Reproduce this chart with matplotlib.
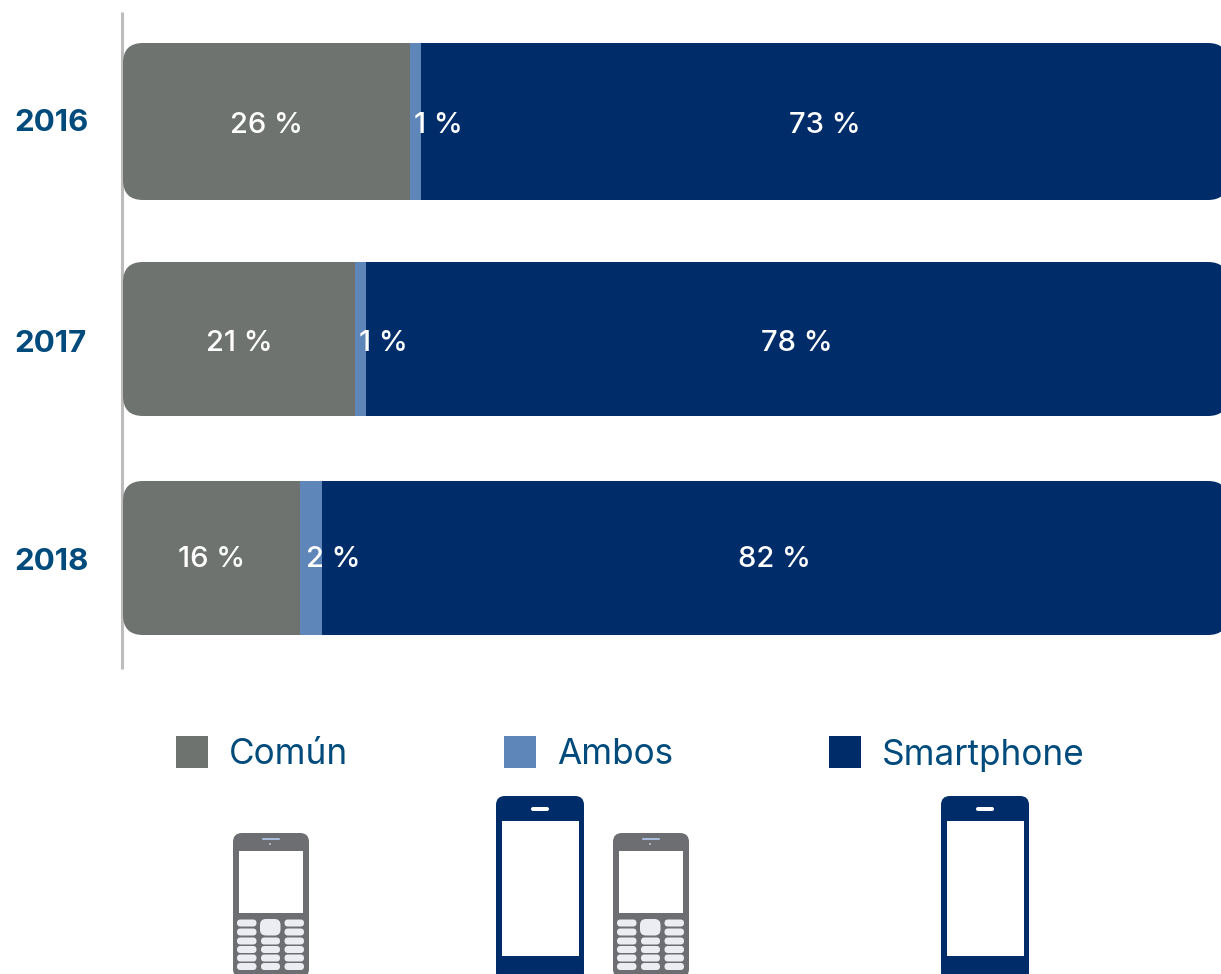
import matplotlib
matplotlib.use("Agg")
import matplotlib.pyplot as plt
from matplotlib.patches import FancyBboxPatch, Rectangle, Circle
import numpy as np

years = ["2016", "2017", "2018"]
comun = [26, 21, 16]
ambos = [1, 1, 2]
smartphone = [73, 78, 82]
legend_labels = ["Común", "Ambos", "Smartphone"]

GRAY = "#6f7370"
MID = "#5f86b8"
NAVY = "#002d69"
TEXT = "#004b7c"
ICON_GRAY = "#6d6e71"
KEY = "#ecedf2"

plt.rcParams["font.family"] = ["Inter", "DejaVu Sans"]

fig = plt.figure(figsize=(12.21, 9.74), dpi=100)

# full figure axes in pixels for the legend, icons and clip shapes
px = fig.add_axes([0, 0, 1, 1])
px.set_xlim(0, 1221)
px.set_ylim(974, 0)
px.axis("off")

# bars: x in percent (11.05 px per point), y in pixels
left = 123
ax = fig.add_axes([left / 1221, 0, 1 - left / 1221, 1])
ax.set_xlim(0, (1221 - left) / 11.05)
ax.set_ylim(974, 0)
ax.axis("off")

y_pos = [121.5, 339, 558]
bar_h = [157, 154, 154]
columns = [(comun, GRAY), (ambos, MID), (smartphone, NAVY)]
label_shift = [0, 2.05, 0]
label_y = [125.5, 343.5, 559.5]
year_y = [123, 344, 562]

for i in range(len(years)):
    clip = FancyBboxPatch((left + 20, y_pos[i] - bar_h[i] / 2 + 20), 1105 - 40, bar_h[i] - 40,
                          boxstyle="round,pad=20,rounding_size=20", transform=px.transData)
    start = 0
    for k, (vals, col) in enumerate(columns):
        bar = ax.barh(y_pos[i], vals[i], left=start, height=bar_h[i], color=col, linewidth=0)[0]
        bar.set_clip_path(clip)
        ax.text(start + vals[i] / 2 + label_shift[k], label_y[i], f"{vals[i]} %", color="white",
                fontsize=21, fontweight="medium", ha="center", va="center")
        start += vals[i]
    px.text(14, year_y[i], years[i], color=TEXT, fontsize=22.5, fontweight="bold", ha="left", va="center")

px.plot([121.5, 121.5], [12, 669], color="#bcbcbc", linewidth=2.2, solid_capstyle="butt")

# legend
leg_x = [176, 504, 829]
leg_text_x = [229, 557, 882]
for x, tx, lab, col in zip(leg_x, leg_text_x, legend_labels, [GRAY, MID, NAVY]):
    px.add_patch(Rectangle((x, 736), 32, 32, color=col, linewidth=0))
    px.text(tx, 755, lab, color=TEXT, fontsize=25.3, ha="left", va="center")


def rbox(x0, y0, x1, y1, r, col):
    px.add_patch(FancyBboxPatch((x0 + r, y0 + r), x1 - x0 - 2 * r, y1 - y0 - 2 * r,
                                boxstyle=f"round,pad={r},rounding_size={r}",
                                facecolor=col, edgecolor="none", linewidth=0))


def smart_icon(dx):
    rbox(496 + dx, 796, 584 + dx, 982, 9, NAVY)
    px.add_patch(Rectangle((502 + dx, 821), 77, 135, color="white", linewidth=0))
    rbox(531 + dx, 807, 549 + dx, 811, 2, "white")


def common_icon(dx):
    rbox(233 + dx, 833, 309 + dx, 978, 9, ICON_GRAY)
    px.add_patch(Rectangle((239 + dx, 851), 64, 62, color="white", linewidth=0))
    rbox(262 + dx, 838, 280 + dx, 840, 1, "#a9bbdc")
    px.add_patch(Circle((270 + dx, 844), 0.9, color="#cfd6e6", linewidth=0))
    rows = [919.5, 928.5, 937.5, 946, 954.5, 963]
    for n, ry in enumerate(rows):
        for kx in [237, 284.5]:
            rbox(kx + dx, ry, kx + 19.5 + dx, ry + 7, 3.5, KEY)
        if n >= 2:
            rbox(261 + dx, ry, 280 + dx, ry + 7, 3.5, KEY)
    rbox(260 + dx, 919, 280.5 + dx, 935.5, 6, KEY)


common_icon(0)
common_icon(380)
smart_icon(0)
smart_icon(445)

fig.savefig("out.png", dpi=100)
